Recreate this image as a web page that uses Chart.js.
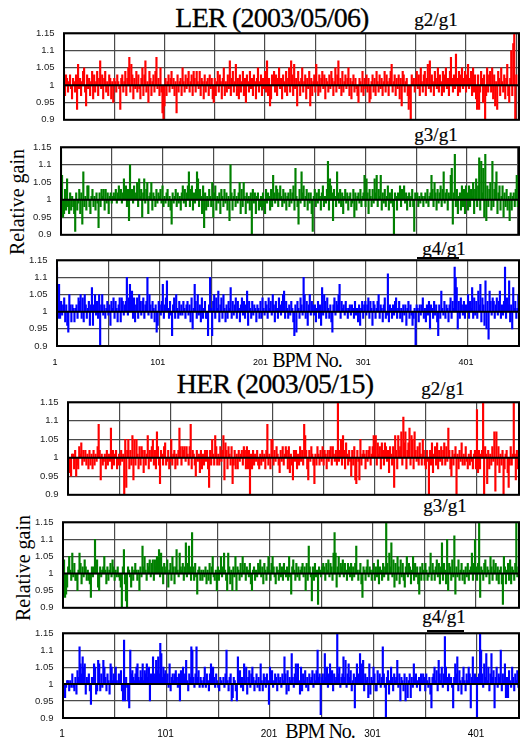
<!DOCTYPE html>
<html>
<head>
<meta charset="utf-8">
<title>LER / HER relative gain</title>
<script src="https://cdn.jsdelivr.net/npm/chart.js@4.4.1/dist/chart.umd.min.js"></script>
<style>
  html, body { margin: 0; padding: 0; background: #fff; }
  #page { position: relative; width: 520px; height: 743px; overflow: hidden; }
  #page canvas { position: absolute; left: 0; }
  .t { position: absolute; font-family: "Liberation Serif", "DejaVu Serif", serif; color: #000; white-space: nowrap; line-height: 1; }
  .title { font-size: 28px; letter-spacing: -0.8px; transform: translateX(-50%); -webkit-text-stroke: 0.3px #000; }
  .ratio { font-size: 19px; transform: translateX(-50%); -webkit-text-stroke: 0.2px #000; }
  .xname { font-size: 20px; letter-spacing: -1px; transform: translateX(-50%); }
  .yname { font-size: 20px; transform: translate(-50%, -50%) rotate(-90deg); }
  .rule { position: absolute; height: 2px; background: #000; }
</style>
</head>
<body>
<div id="page">
  <div class="t title" style="left:272px; top:4px;">LER (2003/05/06)</div>
  <div class="t ratio" style="left:436px; top:10px;">g2/g1</div>
  <div class="t ratio" style="left:436px; top:125px;">g3/g1</div>
  <div class="t ratio" style="left:444px; top:239px;">g4/g1</div>
  <div class="rule" style="left:417px; top:257px; width:42px;"></div>
  <div class="t yname" style="left:17px; top:202px;">Relative gain</div>
  <div class="t xname" style="left:307px; top:350px;">BPM No.</div>

  <div class="t title" style="left:275px; top:370px;">HER (2003/05/15)</div>
  <div class="t ratio" style="left:443px; top:379px;">g2/g1</div>
  <div class="t ratio" style="left:445px; top:496px;">g3/g1</div>
  <div class="t ratio" style="left:444px; top:607px;">g4/g1</div>
  <div class="rule" style="left:427px; top:630px; width:37px;"></div>
  <div class="t yname" style="left:23px; top:568px;">Relative gain</div>
  <div class="t xname" style="left:320px; top:721px;">BPM No.</div>
</div>
<script>
// ============================
// Data (deviation of gain ratio from 1, in %)
// ============================
const lerG2 = [
  4,-3,3,2,-2,1,3,-1,-4,2,1,-2,3,-7,6,-1,2,-3,1,4,5,-2,-6,3,-1,
  2,-3,1,4,-4,3,-2,1,4,-3,2,7,-1,3,-4,2,4,-2,1,-3,3,2,-4,1,-5,
  2,1,-2,3,1,-1,-7,2,3,-2,1,4,-3,2,5,8,-2,6,3,-4,2,-1,4,-2,3,
  -1,-4,2,5,-3,3,7,-2,1,-5,4,2,-3,1,3,-2,4,8,-1,2,-3,5,-2,-8,-10,
  -6,2,-3,1,3,-2,2,4,-1,2,-3,1,-8,3,-2,1,2,-3,5,1,-2,3,-1,2,4,
  -2,1,3,-3,4,2,-2,4,1,-1,4,-3,2,1,-4,3,-2,1,2,-3,3,-1,2,-4,-5,
  2,-3,1,4,-2,3,1,-4,2,5,-3,1,-2,3,-1,7,-3,2,4,-2,1,6,-3,2,-4,
  3,-2,1,4,-3,2,-5,3,1,-2,4,-1,2,-3,3,1,-4,2,5,-2,1,3,-3,2,-1,
  4,-2,7,-3,2,-6,-4,3,1,4,-2,3,-3,2,5,-1,2,-4,3,1,-2,4,-3,2,5,
  -2,7,3,-3,6,-1,2,-6,4,1,-3,2,5,-2,1,3,-4,2,-1,4,-6,2,-3,1,3,
  -2,6,1,-3,3,-2,2,4,-1,3,-4,2,1,-2,3,-1,4,2,-3,1,5,-2,3,7,-1,
  2,-3,4,-2,1,3,-1,2,5,-3,2,-4,1,3,-2,2,-1,-3,-5,2,1,-2,4,-3,2,
  -1,3,-2,2,-5,-4,1,3,-2,2,-3,4,1,-2,3,-1,2,-3,1,4,-2,3,1,-3,2,
  4,6,-2,1,3,-3,2,-1,3,-4,2,-6,4,3,-2,1,2,-3,-7,-4,-10,3,1,2,-2,
  2,4,-1,3,-3,5,1,-2,3,4,-3,2,6,-1,7,-2,3,1,-3,4,2,-1,5,-2,3,
  1,-3,4,-2,3,5,-1,2,-3,4,8,2,-2,3,-1,9,2,-3,4,-2,3,5,-1,2,4,
  -2,3,6,-1,2,4,-3,5,-2,3,-4,-7,3,-7,-2,4,2,-5,3,-10,-3,5,-2,3,4,
  -2,5,-4,3,-6,1,-7,4,2,-3,5,1,-2,3,-4,2,6,-3,-5,2,10,-3,12,15,-10,
  3
];
const lerG3 = [
  14,7,-5,-4,3,-3,6,-2,-4,2,-3,1,-2,-4,-9,2,-3,-1,3,-4,2,-7,8,-2,1,
  -3,4,4,-2,-4,1,3,-2,1,-3,2,-1,-8,2,-2,3,1,3,-3,3,-1,2,-4,1,2,
  -1,1,2,1,3,-1,2,4,1,3,-1,2,6,1,4,-2,3,-6,10,2,3,-1,4,1,2,
  5,-2,6,1,3,-5,2,6,-1,3,5,-4,1,2,5,-3,2,1,-2,3,-1,2,1,3,-1,
  4,-2,1,-1,2,3,-2,1,-3,-7,2,-1,1,3,-2,2,-1,1,-3,2,4,-1,3,-2,2,
  4,8,-2,3,4,-3,2,-1,3,8,6,-2,3,1,-4,4,-8,2,-3,1,-2,3,1,-2,5,
  -5,2,4,-3,1,-1,2,-4,3,1,-2,3,-1,2,-3,1,-6,10,2,-3,1,3,-2,1,-1,
  2,5,-4,3,-2,5,1,-4,2,-1,1,-3,2,-10,3,-1,2,-4,1,2,-3,-2,1,-3,2,
  -2,-4,3,-1,2,1,-3,3,-2,7,2,-1,4,3,-2,2,4,1,-2,3,-1,2,-3,1,2,
  -2,3,-1,2,4,-3,9,1,-2,-7,3,-1,8,2,4,-2,1,3,-3,2,-1,2,-4,-9,1,
  3,-2,2,-1,3,1,-3,2,4,-2,1,-1,3,11,-3,6,4,2,-6,3,1,-2,8,2,-1,
  3,-2,2,-4,1,3,-1,2,-3,1,2,-2,-1,3,-5,2,-3,1,2,-1,3,-2,1,2,7,
  -2,6,2,-4,3,1,-2,3,-1,6,2,7,-2,3,1,7,-3,2,-1,3,-2,1,4,-3,2,
  -1,3,-2,-10,2,1,-3,2,1,4,-2,3,1,4,-1,2,-3,1,2,-2,1,3,-2,-9,2,
  1,2,-2,1,-1,2,1,-2,1,2,-1,3,-2,1,2,7,3,-2,5,2,-3,3,-1,2,4,
  -2,3,8,-1,2,3,-3,2,1,7,9,-7,2,13,-2,3,-4,1,2,-3,4,-2,3,-4,4,
  2,-3,4,-2,3,1,5,-4,3,6,-2,4,12,-3,11,2,9,-5,13,-6,4,-2,3,5,-3,
  11,-2,3,5,8,-4,2,4,-3,1,4,-5,2,-2,3,-3,1,-6,2,-3,1,2,-2,3,7,
  -2
];
const lerG4 = [
  13,-2,8,-2,3,-1,2,4,-3,2,-4,-6,5,2,-3,2,1,-3,1,2,-2,4,3,5,-2,
  4,-3,5,2,-2,1,3,-4,2,7,-4,2,5,-1,3,-2,5,-10,2,5,-1,2,-2,1,3,
  -1,2,-4,3,1,4,-2,3,1,-3,2,4,-3,4,3,-1,2,3,10,-1,4,8,2,6,-2,
  4,-3,2,4,-2,5,3,-1,3,4,-2,2,3,10,-1,5,2,-2,3,1,-3,2,-6,-4,3,
  2,-1,3,8,-2,2,4,9,1,-2,3,-1,-7,2,4,-2,5,1,-2,3,-1,2,-1,3,1,
  -2,2,3,-1,2,-3,4,-5,1,8,3,-2,5,-1,2,-3,4,-2,1,3,-2,-2,-7,2,10,
  1,-7,3,5,-2,4,1,6,-3,2,4,-2,5,1,-3,2,-2,3,1,7,-2,3,-1,2,4,
  -2,3,1,-3,2,4,-1,3,-2,2,6,-4,3,1,-2,3,-1,2,1,-3,2,1,-2,3,-2,
  4,1,-1,3,2,-2,4,1,3,-1,5,2,-3,3,1,-2,4,2,-1,3,5,6,-2,3,1,
  -2,2,-1,3,1,-3,-7,2,-6,3,1,-2,4,2,-1,10,5,-2,3,-4,2,5,-1,3,2,
  -1,2,-3,1,3,-2,2,-4,7,-1,5,3,-2,4,1,-2,2,-3,-6,2,4,-1,3,2,5,
  8,-2,3,1,2,-1,3,1,-2,1,2,-1,2,1,-2,3,-1,1,-3,2,-4,1,3,-2,2,
  3,-1,2,4,-2,3,1,-4,3,2,-2,1,3,5,-2,2,1,-3,2,4,-2,-1,11,-3,2,
  1,-2,2,-1,3,4,-2,1,3,-2,1,-3,2,-1,2,-4,1,3,-2,2,-1,-4,-2,1,-10,
  2,1,-3,2,-1,2,4,-2,1,-3,2,-1,3,-5,2,1,-2,3,-1,2,-3,-7,2,-2,6,
  1,-1,3,-2,2,1,-3,2,4,-2,3,1,13,10,7,-5,3,-2,4,2,-1,3,-2,2,1,
  5,-2,3,1,7,-2,4,-1,3,-2,6,2,8,-3,4,2,-4,9,-5,3,-8,6,3,-1,4,
  3,-2,2,4,-1,3,6,-2,2,-1,3,13,-2,4,2,9,-3,2,-5,7,1,3,-2,1,5,
  4
];
const herG2 = [
  -6,-4,-2,-5,1,1,-3,2,-5,-2,-3,3,1,4,-2,2,-1,2,-2,1,-3,2,-2,1,-3,
  2,-2,1,-1,3,9,2,-6,1,-2,-1,1,-3,2,-2,1,-1,8,-3,2,-2,1,2,-3,-2,
  1,-2,2,-1,1,-10,5,-8,2,5,-3,2,-2,6,-6,5,-2,5,1,-3,3,-2,3,2,-4,
  2,-2,1,6,-3,2,-1,3,5,-2,2,-3,7,3,-2,-7,2,1,-2,3,4,-2,-1,2,-3,
  -1,5,-2,1,2,-3,1,-2,2,8,3,-2,3,2,3,-1,3,1,-2,3,9,-3,2,1,-2,
  -5,2,-1,1,-4,2,-3,1,-2,2,-1,2,-3,-8,2,-2,5,1,-2,6,3,-2,1,-2,3,
  -1,2,6,-6,4,2,-3,3,1,-2,3,-7,-2,2,-3,1,-3,2,-1,1,2,-2,3,2,-3,
  3,-3,2,-10,1,-3,2,-2,1,-1,2,-2,-3,1,-2,2,-1,1,-3,2,9,-2,1,-3,5,
  5,-2,2,-1,3,1,-2,-4,2,-1,3,-2,1,3,2,-3,3,-4,1,-2,-6,2,-1,2,-3,
  1,-2,3,-1,2,-2,9,6,2,-3,-6,2,-1,3,1,-2,-7,1,-2,3,1,-2,2,-1,3,
  -2,2,1,-3,2,-1,2,3,-2,3,1,-1,2,-2,15,-1,2,5,-2,6,2,-3,4,1,-2,
  2,-1,-5,2,-2,3,-6,-7,2,-1,-6,5,-2,1,2,1,-3,2,-1,2,3,-2,1,3,6,
  2,6,-2,4,1,3,-3,4,2,-2,4,3,-1,2,-4,3,1,-2,3,-8,6,2,-3,6,2,
  3,7,-2,11,4,7,-3,2,4,8,-2,6,5,-3,7,2,-1,3,-2,4,1,-2,5,2,-2,
  -3,2,-1,-10,2,-2,4,-4,1,3,-2,4,-3,2,-1,3,-2,2,4,-2,3,-1,8,2,-3,
  -5,2,-2,1,3,-10,1,-3,2,-1,4,-2,1,-2,3,-1,-3,1,-2,2,-1,-3,1,2,-3,
  13,-4,2,-3,1,2,15,-10,3,1,-7,2,-3,1,-2,3,-1,7,-9,7,-2,3,-4,1,-2,
  2,-10,-3,1,2,-4,-8,-2,3,-2,1,15,1,-6,2,-3,1
];
const herG3 = [
  2,4,-7,-6,-4,2,5,1,-2,6,-1,3,-2,-2,-5,1,6,3,-3,2,-1,4,2,-2,1,
  -2,-3,-7,2,-1,2,10,3,4,-4,-5,2,-1,1,2,5,1,-3,2,-2,1,3,-1,4,2,
  -2,1,-1,2,-1,-2,-4,-10,2,7,-3,-8,-10,2,1,-1,-4,2,-2,1,3,1,-2,1,-5,
  2,-1,8,2,5,1,-2,3,2,4,-1,3,4,-2,4,2,5,1,7,-1,6,2,-3,3,1,
  2,4,-4,1,3,-2,5,2,-3,2,7,1,-1,6,2,1,3,-2,2,9,-1,3,8,2,-2,
  12,2,-2,3,-1,-6,1,2,-2,1,-2,1,-1,2,-3,1,-2,3,-3,2,5,-1,-2,1,-5,
  2,-2,1,5,-1,2,6,1,-2,-5,6,2,-3,1,-5,2,-1,5,-5,2,1,-2,3,-1,5,
  1,3,-2,2,1,-1,3,-3,-5,1,2,-2,1,-1,3,2,4,-1,2,-3,3,1,-2,2,5,
  1,-2,3,5,2,-1,-3,2,1,-2,3,-1,2,-2,3,1,-1,2,-2,5,-1,-6,2,4,1,
  -2,3,-1,2,-2,1,2,3,-1,2,-5,3,-2,8,2,-1,-8,2,-2,3,-1,1,-9,2,1,
  -1,2,3,2,-2,3,1,4,-1,3,2,-2,6,12,6,-4,2,5,-1,3,2,4,-1,3,1,
  -2,3,2,-1,3,-2,2,-1,3,8,1,-2,1,3,-3,-7,2,1,-2,2,4,-1,2,1,-2,
  1,3,-2,2,-1,4,-3,2,1,-2,3,-1,2,15,3,-2,6,2,9,-1,4,-4,3,-2,5,
  2,-3,4,-1,3,-2,-4,2,5,-1,3,2,-3,1,5,-2,3,-1,2,-3,-6,2,-2,3,1,
  -2,3,1,-2,-1,2,6,-2,3,1,-2,2,4,-1,3,-3,2,9,-2,3,1,-3,10,-5,3,
  2,-2,4,-1,11,-6,2,-1,4,-2,1,3,-2,1,-3,2,-1,3,-2,1,2,6,-2,3,10,
  2,-2,3,15,-7,2,1,-2,3,4,-1,2,1,-3,5,2,-2,4,1,3,-2,2,-3,1,2,
  -3,-9,5,2,-3,1,3,-2,4,-3,2,1,-2,3,15,-1,2
];
const herG4 = [
  -1,0,-4,-1,1,1,-2,1,-1,3,-1,-2,2,-3,4,2,11,6,3,8,5,6,-3,2,1,
  3,-2,-6,2,1,6,5,-3,-2,7,6,-2,3,-1,7,5,2,-2,3,1,-3,6,5,1,3,
  2,5,1,0,3,1,4,-2,-5,13,-5,2,-1,-5,-7,10,3,4,2,1,3,5,6,2,1,
  4,2,6,1,4,3,6,2,5,-5,3,1,8,2,3,7,4,8,3,12,9,2,5,3,4,
  1,3,-1,6,-2,2,3,1,3,4,2,-1,3,-5,4,1,5,2,3,7,1,-2,3,2,11,
  10,2,-1,3,11,2,4,-1,2,1,-1,2,5,-1,3,1,-2,3,6,1,5,2,-1,3,1,
  -1,-2,2,1,0,2,-1,3,10,1,-2,2,3,-5,-4,2,1,-2,-5,8,2,4,-1,2,-2,
  6,1,5,-3,2,4,-1,3,5,2,-2,1,3,-1,2,-2,6,1,-2,3,2,-1,3,1,-6,
  5,2,4,-1,1,3,2,-2,3,1,2,-1,3,1,8,3,-3,4,-2,2,1,9,2,-1,3,
  6,2,6,1,-3,5,-2,3,1,4,-1,2,-2,3,1,2,4,-1,3,1,4,10,2,3,-9,
  2,3,1,9,2,5,-1,3,6,2,4,-2,3,1,2,15,3,5,-1,2,3,8,2,7,-1,
  3,6,2,4,-2,1,3,-7,2,6,1,3,9,2,6,7,-2,3,1,2,-4,6,-3,2,1,
  5,3,-2,-2,4,1,3,-1,2,11,3,-1,-10,2,4,-3,1,5,2,-2,3,1,2,7,-1,
  3,-5,2,1,-2,3,-5,2,-4,1,3,-4,2,-1,6,2,3,-1,1,2,-2,3,1,3,2,
  -2,3,1,-1,2,-3,-7,2,3,5,1,4,-2,7,3,1,5,-1,3,14,5,2,-2,3,1,
  2,-1,-7,2,6,3,8,-2,4,1,-3,2,5,1,-2,3,1,5,3,-7,2,8,1,3,2,
  -10,2,3,15,10,3,-1,6,2,9,1,5,-2,3,9,2,4,-7,2,5,-1,3,2,10,-2,
  3,1,6,-4,2,-4,4,1,-1,5,2,-2,3,1,4,-1,2
];

// axis ticks
const gainTicks = [0.9, 0.95, 1, 1.05, 1.1, 1.15];
const bpmGrid = [1, 51, 101, 151, 201, 251, 301, 351, 401, 451];
const bpmLabels = [1, 101, 201, 301, 401];

// ============================
// Panel layout (pixel box of each plot on the page)
// ============================
const PLOT_RIGHT = 519;
const panels = [
  { values: lerG2, color: "#ff0000", top: 33, bottom: 120, left: 64, xMax: 453.7 },
  { values: lerG3, color: "#008000", top: 147, bottom: 235, left: 61, xMax: 452.2 },
  { values: lerG4, color: "#0000ff", top: 260, bottom: 346, left: 57, xMax: 450.6, labels: true, labelFont: 9, tickPad: 11, labelOffset: -2 },
  { values: herG2, color: "#ff0000", top: 402, bottom: 495, left: 68, xMax: 442.1 },
  { values: herG3, color: "#008000", top: 522, bottom: 608, left: 63, xMax: 442.6 },
  { values: herG4, color: "#0000ff", top: 633, bottom: 718, left: 63, xMax: 441.6, labels: true, labelFont: 10, tickPad: 10, labelOffset: -1 },
];

// frame + unity line drawn on top of the bars
const framePlugin = {
  id: "frame",
  afterDatasetsDraw(chart) {
    const { ctx, chartArea: a, scales } = chart;
    const y1 = scales.y.getPixelForValue(1);
    ctx.save();
    ctx.strokeStyle = "#000";
    ctx.lineWidth = 2;
    ctx.beginPath();
    ctx.moveTo(a.left, y1);
    ctx.lineTo(a.right, y1);
    ctx.stroke();
    ctx.strokeRect(a.left, a.top, a.right - a.left, a.bottom - a.top);
    ctx.restore();
  },
};

const page = document.getElementById("page");

function buildChart(p, g) {
  const canvas = document.createElement("canvas");
  canvas.width = 520 + g.eRight;
  canvas.height = p.bottom - p.top + g.padTop + g.xh + g.eTop + g.eBottom;
  canvas.style.top = p.top - g.padTop - g.eTop + "px";
  page.appendChild(canvas);

  const chart = new Chart(canvas, {
    type: "bar",
    data: {
      datasets: [
        {
          data: p.values.map((d, i) => ({ x: i + 1, y: 1 + d / 100 })),
          backgroundColor: p.color,
          base: 1,
          barThickness: 1.5,
          borderWidth: 0,
        },
      ],
    },
    options: {
      responsive: false,
      animation: false,
      devicePixelRatio: 1,
      layout: { autoPadding: false, padding: { top: g.padTop, right: 520 - PLOT_RIGHT, bottom: 0, left: 0 } },
      plugins: { legend: { display: false }, tooltip: { enabled: false } },
      scales: {
        x: {
          type: "linear",
          min: 1,
          max: p.xMax,
          offset: false,
          afterBuildTicks: (s) => {
            s.ticks = bpmGrid.filter((v) => v <= p.xMax).map((v) => ({ value: v }));
          },
          afterFit: (s) => {
            s.height = g.xh;
          },
          grid: { color: "#4a4a4a", lineWidth: 1.2, drawTicks: false, offset: false },
          border: { display: false },
          ticks: {
            display: !!p.labels,
            autoSkip: false,
            maxRotation: 0,
            padding: p.tickPad || 0,
            labelOffset: p.labelOffset || 0,
            color: "#000",
            font: { family: "Liberation Sans", size: p.labelFont || 9 },
            callback: (v) => (bpmLabels.includes(v) ? String(v) : ""),
          },
        },
        y: {
          min: 0.9,
          max: 1.15,
          afterBuildTicks: (s) => {
            s.ticks = gainTicks.map((v) => ({ value: v }));
          },
          afterFit: (s) => {
            s.width = p.left - g.eLeft;
          },
          grid: { color: "#4a4a4a", lineWidth: 1.2, drawTicks: false },
          border: { display: false },
          ticks: {
            padding: 9.5,
            color: "#222",
            font: { family: "Liberation Sans", size: 9.5 },
            callback: (v) => String(v),
          },
        },
      },
    },
    plugins: [framePlugin],
  });
  return { chart, canvas };
}

// build once, measure how far Chart.js moved the plot box, rebuild corrected
function makePanel(p) {
  const g = { padTop: 7, xh: p.labels ? 26 : 3, eTop: 0, eBottom: 0, eLeft: 0, eRight: 0 };
  const first = buildChart(p, g);
  const a = first.chart.chartArea;
  const h = first.canvas.height;
  g.eTop = a.top - g.padTop;
  g.eBottom = h - g.xh - a.bottom;
  g.eLeft = a.left - p.left;
  g.eRight = Math.max(0, Math.round(PLOT_RIGHT - a.right));
  first.chart.destroy();
  first.canvas.remove();
  return buildChart(p, g).chart;
}

panels.forEach(makePanel);
</script>
</body>
</html>
